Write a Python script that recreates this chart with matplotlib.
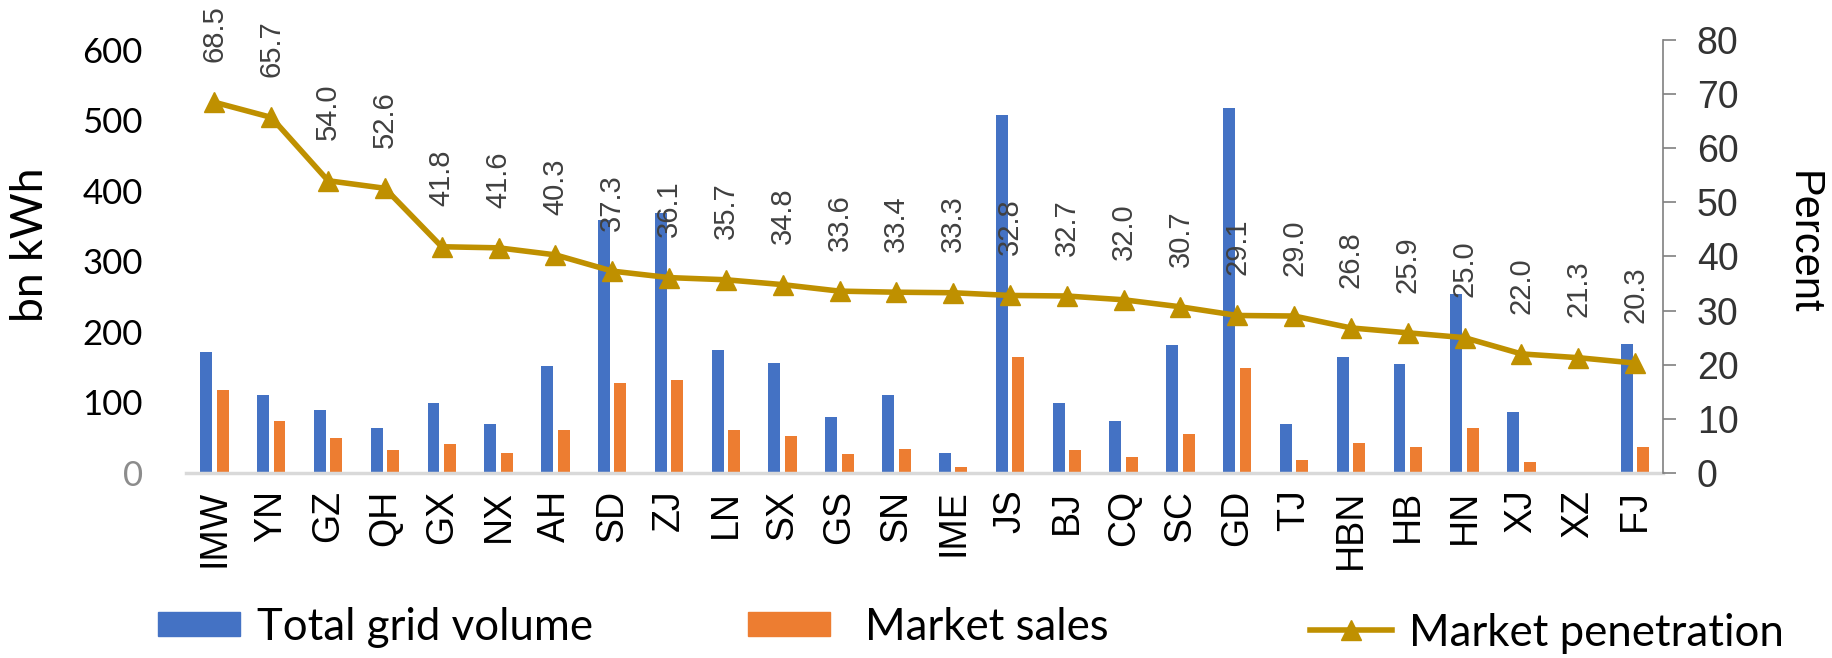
import matplotlib
matplotlib.use('Agg')
import matplotlib.pyplot as plt
import numpy as np
from matplotlib.patches import Patch
from matplotlib.lines import Line2D

# provinces, sorted by market penetration
regions = ['IMW', 'YN', 'GZ', 'QH', 'GX', 'NX', 'AH', 'SD', 'ZJ', 'LN', 'SX', 'GS', 'SN',
           'IME', 'JS', 'BJ', 'CQ', 'SC', 'GD', 'TJ', 'HBN', 'HB', 'HN', 'XJ', 'XZ', 'FJ']
total_grid = [172, 111, 90, 64, 99, 70, 152, 359, 368, 175, 156, 79, 111,
              29, 507, 99, 73, 182, 518, 70, 165, 155, 254, 86, 0, 183]
market_sales = [117, 73, 49, 32, 41, 29, 61, 128, 132, 61, 52, 27, 34,
                8, 164, 32, 23, 55, 149, 19, 43, 37, 64, 16, 0, 37]
penetration = [68.5, 65.7, 54.0, 52.6, 41.8, 41.6, 40.3, 37.3, 36.1, 35.7, 34.8, 33.6, 33.4,
               33.3, 32.8, 32.7, 32.0, 30.7, 29.1, 29.0, 26.8, 25.9, 25.0, 22.0, 21.3, 20.3]
left_ticks = [0, 100, 200, 300, 400, 500, 600]
right_ticks = [0, 10, 20, 30, 40, 50, 60, 70, 80]

BLUE = '#4472C4'
ORANGE = '#ED7D31'
GOLD = '#BF9000'

fig = plt.figure(figsize=(18.33, 6.58), dpi=100)
ax = fig.add_axes([0.1015, 0.2812, 0.806, 0.658])
x = np.arange(len(regions))
w = 0.21

ax.bar(x - 0.145, total_grid, w, color=BLUE, zorder=2)
ax.bar(x + 0.145, market_sales, w, color=ORANGE, zorder=2)
ax.set_xlim(-0.5, len(regions) - 0.5)
ax.set_ylim(0, 614)
ax.set_yticks(left_ticks)
ax.set_yticklabels([str(t) for t in left_ticks], fontsize=25, family='Lato')
ax.get_yticklabels()[0].set_color('#8c8c8c')
ax.tick_params(axis='y', length=0, pad=31)
ax.set_xticks(x)
ax.set_xticklabels(regions, rotation=90, fontsize=27, family='Liberation Sans')
ax.tick_params(axis='x', length=0, pad=12)
for s in ['top', 'left', 'right']:
    ax.spines[s].set_visible(False)
ax.spines['bottom'].set_color('#d9d9d9')
ax.spines['bottom'].set_linewidth(2.5)

ax2 = ax.twinx()
ax2.plot(x, penetration, color=GOLD, lw=4, marker='^', markersize=15, zorder=3)
ax2.set_ylim(0, 80)
ax2.set_yticks(right_ticks)
ax2.set_yticklabels([str(t) for t in right_ticks], fontsize=27, family='Liberation Sans',
                    color='#333333')
ax2.tick_params(axis='y', length=9, width=1.2, color='#808080', pad=15, direction='out')
for s in ['top', 'left', 'bottom']:
    ax2.spines[s].set_visible(False)
ax2.spines['right'].set_color('#808080')
ax2.spines['right'].set_linewidth(1.2)

for xi, v in zip(x, penetration):
    ax2.annotate(f'{v:.1f}', (xi, v), xytext=(0, 29), textcoords='offset points',
                 rotation=90, ha='center', va='bottom', fontsize=21,
                 family='Liberation Sans', color='#404040')

fig.text(31 / 1833, 1 - 245 / 658, 'bn kWh', rotation=90, ha='center', va='center',
         fontsize=32, family='Lato')
fig.text(1803 / 1833, 1 - 243 / 658, 'Percent', rotation=270, ha='center', va='center',
         fontsize=30, family='Liberation Sans')

leg_kw = dict(frameon=False, prop={'family': 'Lato', 'size': 31.5},
              handlelength=1.87, borderpad=0, borderaxespad=0, loc='center left')
fig.legend(handles=[Patch(color=BLUE)], labels=['Total grid volume'],
           bbox_to_anchor=(158 / 1833, 1 - 627 / 658), handleheight=0.46,
           handletextpad=0.39, **leg_kw)
fig.legend(handles=[Patch(color=ORANGE)], labels=['Market sales'],
           bbox_to_anchor=(748 / 1833, 1 - 627 / 658), handleheight=0.46,
           handletextpad=0.8, **leg_kw)
fig.legend(handles=[Line2D([], [], color=GOLD, lw=4, marker='^', markersize=15)],
           labels=['Market penetration'], numpoints=1, handletextpad=0.39,
           bbox_to_anchor=(1310 / 1833, 1 - 633 / 658), **leg_kw)

fig.savefig('out.png', dpi=100)
